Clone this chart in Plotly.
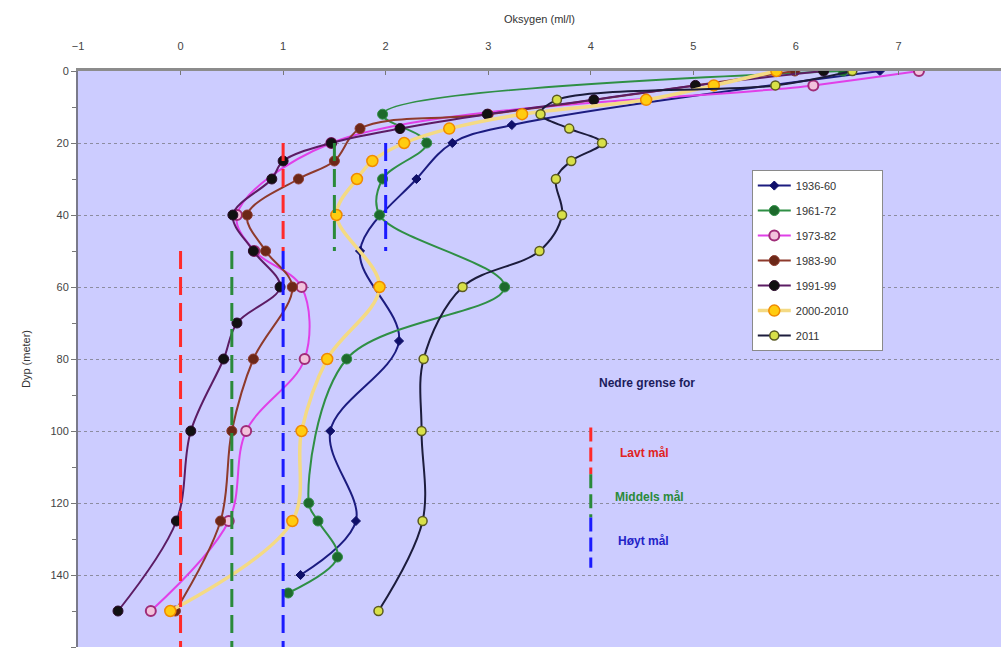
import plotly.graph_objects as go

# Oxygen profiles (ml/l) by depth (m), averaged per period
depth_1936_60 = [0, 15, 20, 30, 50, 75, 100, 125, 140]
oxy_1936_60 = [6.82, 3.23, 2.65, 2.30, 1.75, 2.13, 1.46, 1.71, 1.17]

depth_1961_72 = [0, 12, 20, 30, 40, 60, 80, 120, 125, 135, 145]
oxy_1961_72 = [6.46, 1.97, 2.40, 1.97, 1.94, 3.16, 1.62, 1.25, 1.34, 1.53, 1.05]

depth_1973_82 = [0, 4, 20, 40, 50, 60, 80, 100, 125, 150]
oxy_1973_82 = [7.20, 6.17, 1.47, 0.55, 0.72, 1.18, 1.21, 0.64, 0.47, -0.29]

depth_1983_90 = [0, 12, 16, 25, 30, 40, 50, 60, 80, 100, 125, 150]
oxy_1983_90 = [5.99, 3.00, 1.75, 1.50, 1.15, 0.65, 0.83, 1.09, 0.71, 0.50, 0.39, -0.05]

depth_1991_99 = [0, 4, 8, 12, 16, 20, 25, 30, 40, 50, 60, 70, 80, 100, 125, 150]
oxy_1991_99 = [6.27, 5.02, 4.03, 2.99, 2.14, 1.47, 1.00, 0.89, 0.51, 0.71, 0.97, 0.55, 0.42, 0.10, -0.04, -0.61]

depth_2000_2010 = [0, 4, 8, 12, 16, 20, 25, 30, 40, 60, 80, 100, 125, 150]
oxy_2000_2010 = [5.81, 5.20, 4.54, 3.33, 2.62, 2.18, 1.87, 1.72, 1.52, 1.94, 1.43, 1.18, 1.09, -0.10]

depth_2011 = [0, 4, 8, 12, 16, 20, 25, 30, 40, 50, 60, 80, 100, 125, 150]
oxy_2011 = [6.55, 5.80, 3.67, 3.51, 3.79, 4.11, 3.81, 3.66, 3.72, 3.50, 2.75, 2.37, 2.35, 2.36, 1.93]

# Lower limits for environmental targets (low / medium / high)
limit_depth_upper = [20, 50]
limit_depth_lower = [50, 160]
limit_lavt = [1.0, 0.0]
limit_middels = [1.5, 0.5]
limit_hoyt = [2.0, 1.0]

# Key for the limit lines
key_x = 4.0
key_depth_lavt = [99, 112]
key_depth_middels = [112, 124]
key_depth_hoyt = [124, 138]

FONT = "Liberation Sans, Arial, sans-serif"
PAD = "\u00a0" * 9  # widens the legend box a little

series = [
    ("1936-60", depth_1936_60, oxy_1936_60,
     dict(color="#1c1c80", width=2),
     dict(symbol="diamond", size=7, color="#10106a", line=dict(color="#10106a", width=1))),
    ("1961-72", depth_1961_72, oxy_1961_72,
     dict(color="#2f8f45", width=2),
     dict(symbol="circle", size=10, color="#1d6a2c", line=dict(color="#2f8f45", width=1))),
    ("1973-82", depth_1973_82, oxy_1973_82,
     dict(color="#e040e8", width=2),
     dict(symbol="circle", size=10, color="#f2c2dc", line=dict(color="#a02c78", width=2))),
    ("1983-90", depth_1983_90, oxy_1983_90,
     dict(color="#8e3a2c", width=2),
     dict(symbol="circle", size=10, color="#6c2818", line=dict(color="#8e3a2c", width=1))),
    ("1991-99", depth_1991_99, oxy_1991_99,
     dict(color="#5c1c64", width=2),
     dict(symbol="circle", size=10, color="#111111", line=dict(color="#2a0a2a", width=1))),
    ("2000-2010", depth_2000_2010, oxy_2000_2010,
     dict(color="#f4da84", width=3.5),
     dict(symbol="circle", size=11, color="#ffcc10", line=dict(color="#f08a00", width=1.5))),
    ("2011", depth_2011, oxy_2011,
     dict(color="#1c1c3c", width=2),
     dict(symbol="circle", size=9, color="#d8e048", line=dict(color="#5a5a20", width=1.5))),
]

fig = go.Figure()

for name, depth, oxy, line, marker in series:
    label = name + PAD if name == "2000-2010" else name
    fig.add_trace(go.Scatter(
        x=oxy, y=depth, name=label, mode="lines+markers",
        line=dict(shape="spline", smoothing=1.0, **line),
        marker=marker, legendgroup=name,
    ))

# Limit lines drawn on top of the profiles
limit_colors = {"lavt": "#ff2a2a", "middels": "#2a8a3a", "hoyt": "#1a1aff"}
for key, vals in (("lavt", limit_lavt), ("middels", limit_middels), ("hoyt", limit_hoyt)):
    for val, depths in ((vals[0], limit_depth_upper), (vals[1], limit_depth_lower)):
        fig.add_trace(go.Scatter(
            x=[val, val], y=depths, mode="lines", showlegend=False, hoverinfo="skip",
            line=dict(color=limit_colors[key], width=3, dash="18px,8px"),
        ))

for key, depths in (("lavt", key_depth_lavt), ("middels", key_depth_middels), ("hoyt", key_depth_hoyt)):
    fig.add_trace(go.Scatter(
        x=[key_x, key_x], y=depths, mode="lines", showlegend=False, hoverinfo="skip",
        line=dict(color=limit_colors[key], width=3, dash="14px,6px"),
    ))

annotations = [
    dict(x=4.06, y=86.7, text="<b>Nedre grense for</b>", color="#1c1c5c"),
    dict(x=4.27, y=106.0, text="<b>Lavt mål</b>", color="#e02222"),
    dict(x=4.22, y=118.3, text="<b>Middels mål</b>", color="#2a8a3a"),
    dict(x=4.25, y=130.5, text="<b>Høyt mål</b>", color="#2222c8"),
]
for a in annotations:
    fig.add_annotation(
        x=a["x"], y=a["y"], xref="x", yref="y", text=a["text"], showarrow=False,
        xanchor="left", yanchor="middle",
        font=dict(family=FONT, size=12, color=a["color"]),
    )

fig.update_layout(
    width=1002, height=649,
    margin=dict(l=78, r=1, t=71, b=2),
    paper_bgcolor="white",
    plot_bgcolor="#ccccff",
    font=dict(family=FONT, size=11, color="#333333"),
    showlegend=True,
    legend=dict(
        x=0.730, y=0.828, xanchor="left", yanchor="top",
        bgcolor="white", bordercolor="#8a8a8a", borderwidth=1,
        font=dict(family=FONT, size=11, color="#333333"),
        tracegroupgap=6, itemwidth=33,
    ),
    xaxis=dict(
        side="top", range=[-1, 8], dtick=1, tick0=-1,
        showgrid=False, zeroline=False,
        showline=True, linecolor="#8c8c8c", linewidth=3,
        ticks="inside", ticklen=4, tickcolor="#777777",
        ticklabelstandoff=14,
        tickfont=dict(family=FONT, size=11, color="#444444"),
        title=dict(text="Oksygen (ml/l)", standoff=14,
                   font=dict(family=FONT, size=11, color="#333333")),
        automargin=False,
    ),
    yaxis=dict(
        range=[160, 0], dtick=20, tick0=0,
        showgrid=True, gridcolor="#8c8ca0", griddash="dot", gridwidth=1,
        zeroline=False,
        showline=True, linecolor="#7a7a8a", linewidth=2,
        ticks="outside", ticklen=5, tickcolor="#777777",
        minor=dict(dtick=10, ticks="outside", ticklen=4, tickcolor="#777777", showgrid=False),
        tickfont=dict(family=FONT, size=11, color="#444444"),
        title=dict(text="Dyp (meter)", standoff=18,
                   font=dict(family=FONT, size=11, color="#333333")),
        automargin=False,
    ),
)

fig.write_html("out.html")
